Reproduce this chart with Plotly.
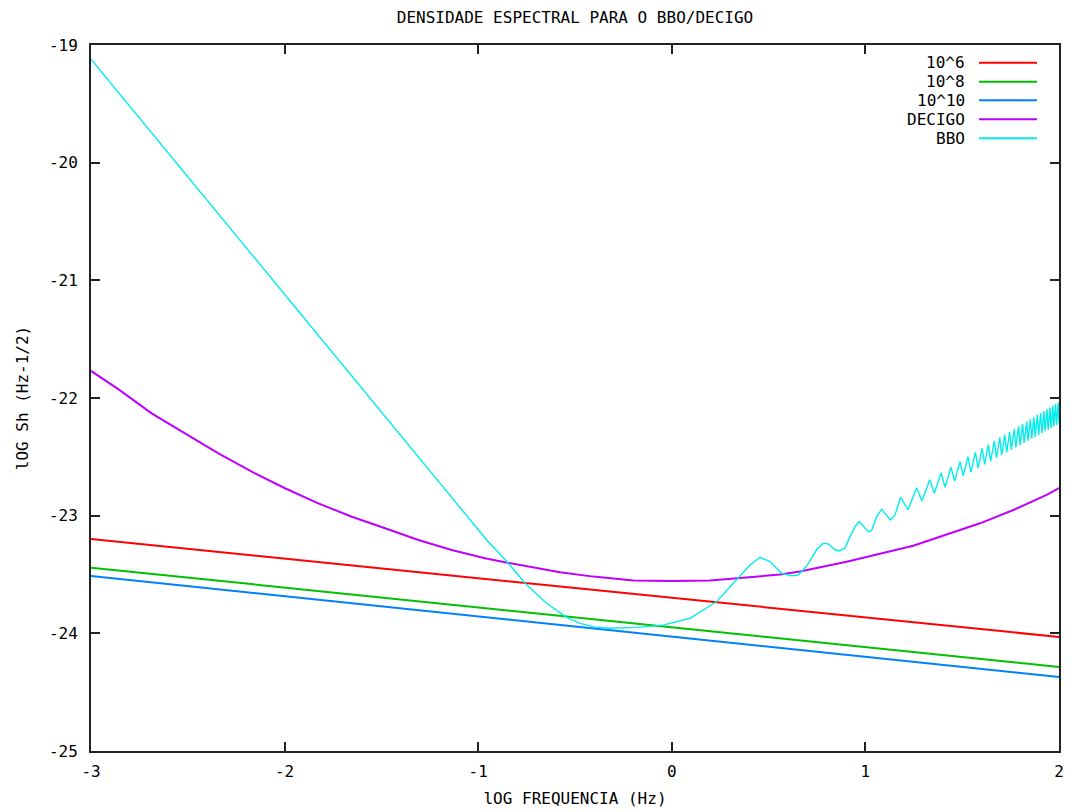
import plotly.graph_objects as go

# ---------------- data ----------------
x_ticks = [-3, -2, -1, 0, 1, 2]
x_ticklabels = ["-3", "-2", "-1", "0", "1", "2"]
y_ticks = [-25, -24, -23, -22, -21, -20, -19]
y_ticklabels = ["-25", "-24", "-23", "-22", "-21", "-20", "-19"]

# straight reference curves (log f, log Sh)
line_logf = [-3.0, -2.0, -1.0, 0.0, 1.0, 2.0]
s1e6 = [-23.198, -23.365, -23.531, -23.698, -23.865, -24.031]
s1e8 = [-23.442, -23.611, -23.780, -23.949, -24.117, -24.286]
s1e10 = [-23.513, -23.685, -23.856, -24.024, -24.195, -24.371]

decigo_logf = [-3.0, -2.859, -2.687, -2.514, -2.342, -2.170, -1.998, -1.826,
               -1.653, -1.481, -1.309, -1.137, -0.965, -0.862, -0.578, -0.405,
               -0.198, 0.0, 0.197, 0.369, 0.559, 0.662, 0.903, 1.247, 1.592,
               1.764, 1.936, 2.0]
decigo_logsh = [-21.77, -21.925, -22.13, -22.30, -22.47, -22.626, -22.767, -22.895,
                -23.009, -23.107, -23.207, -23.292, -23.362, -23.396, -23.481, -23.518,
                -23.55, -23.555, -23.55, -23.527, -23.50, -23.475, -23.391, -23.255, -23.065,
                -22.952, -22.824, -22.765]

bbo_logf = [-3.0, -2.5, -2.0, -1.5, -1.068, -0.956, -0.844, -0.758, -0.65,
            -0.543, -0.474, -0.40, -0.319, -0.182, -0.044, 0.094, 0.232, 0.352, 0.404,
            0.456, 0.507, 0.567, 0.619, 0.653, 0.696, 0.748, 0.782, 0.808, 0.843,
            0.865, 0.894, 0.920, 0.946, 0.967, 0.989, 1.015, 1.032, 1.058, 1.084,
            1.101, 1.130, 1.153, 1.182, 1.220,
            1.265, 1.292, 1.332, 1.356, 1.391, 1.412, 1.442, 1.461, 1.489, 1.505,
            1.530, 1.545, 1.568, 1.582, 1.603, 1.616, 1.635, 1.647, 1.666, 1.677,
            1.694, 1.704, 1.720, 1.730, 1.745, 1.754, 1.769, 1.777, 1.791, 1.799,
            1.812, 1.820, 1.833, 1.840, 1.852, 1.859, 1.870, 1.877, 1.888, 1.895,
            1.905, 1.912, 1.922, 1.928, 1.938, 1.944, 1.953, 1.959, 1.968, 1.973,
            1.982, 1.987, 1.996, 2.0]
bbo_logsh = [-19.12, -20.12, -21.12, -22.12, -22.98, -23.207, -23.405, -23.575, -23.74,
             -23.864, -23.915, -23.945, -23.957, -23.949, -23.93, -23.872, -23.73, -23.518, -23.42,
             -23.354, -23.39, -23.49, -23.51, -23.504, -23.43, -23.29, -23.235, -23.24, -23.29,
             -23.30, -23.277, -23.18, -23.094, -23.05, -23.094, -23.136, -23.127, -23.008, -22.946,
             -22.98, -23.037, -22.994, -22.844, -22.95,
             -22.762, -22.875, -22.695, -22.81, -22.637, -22.76, -22.587, -22.705, -22.540, -22.66,
             -22.499, -22.63, -22.462, -22.596, -22.427, -22.565, -22.396, -22.537, -22.365, -22.51,
             -22.337, -22.486, -22.311, -22.462, -22.287, -22.441, -22.263, -22.42, -22.241, -22.40,
             -22.220, -22.381, -22.200, -22.363, -22.181, -22.346, -22.163, -22.33, -22.145, -22.313,
             -22.128, -22.298, -22.111, -22.283, -22.096, -22.269, -22.081, -22.255, -22.066, -22.243,
             -22.052, -22.23, -22.038, -22.218]

series_names = ["10^6", "10^8", "10^10", "DECIGO", "BBO"]
series_colors = ["#ff0000", "#00c000", "#0080ff", "#c000ff", "#00eeee"]
series_widths = [2, 2, 2, 2, 1.4]

FONT = "DejaVu Sans Mono"
FS = 16

fig = go.Figure()
series = [
    (line_logf, s1e6),
    (line_logf, s1e8),
    (line_logf, s1e10),
    (decigo_logf, decigo_logsh),
    (bbo_logf, bbo_logsh),
]
for (xs, ys), name, col, lw in zip(series, series_names, series_colors, series_widths):
    fig.add_trace(go.Scatter(x=xs, y=ys, mode="lines", name=name,
                             line=dict(color=col, width=lw), showlegend=False))

# page body has an 8px margin: work in page pixels, convert to figure pixels
OFF = 8
W, H = 1074 - 2 * OFF, 812 - OFF
PL, PR, PT, PB = 91 - OFF, 1059 - OFF, 45 - OFF, 751 - OFF

def px2paper_x(p):
    return (p - OFF - PL) / (PR - PL)
def px2paper_y(p):
    return (PB - (p - OFF)) / (PB - PT)

row_y = [62.7, 81.7, 100.3, 119.3, 138.3]
shapes = []
annotations = []
for name, col, ry in zip(series_names, series_colors, row_y):
    yp = px2paper_y(ry)
    shapes.append(dict(type="line", xref="paper", yref="paper",
                       x0=px2paper_x(979), x1=px2paper_x(1037), y0=yp, y1=yp,
                       line=dict(color=col, width=2)))
    annotations.append(dict(xref="paper", yref="paper", x=px2paper_x(967), y=yp,
                            xanchor="right", yanchor="middle", text=name,
                            showarrow=False, font=dict(family=FONT, size=FS, color="#000")))

axis_common = dict(showgrid=False, zeroline=False, showline=True, linewidth=2,
                   linecolor="#222", mirror="ticks", ticks="inside", ticklen=9,
                   tickwidth=1.5, tickcolor="#222", automargin=False,
                   tickfont=dict(family=FONT, size=FS, color="#000"))

fig.update_layout(
    width=W, height=H,
    margin=dict(l=PL, r=W - PR, t=PT, b=H - PB, autoexpand=False),
    paper_bgcolor="white", plot_bgcolor="white",
    font=dict(family=FONT, size=FS, color="#000"),
    title=dict(text="DENSIDADE ESPECTRAL PARA O BBO/DECIGO",
               x=(PL + PR) / 2 / W, xanchor="center",
               y=1 - (17 - OFF) / H, yanchor="middle",
               font=dict(family=FONT, size=FS, color="#000")),
    xaxis=dict(range=[-3, 2], tickvals=x_ticks, ticktext=x_ticklabels,
               ticklabelstandoff=5,
               title=dict(text="lOG FREQUENCIA (Hz)", standoff=13,
                          font=dict(family=FONT, size=FS, color="#000")),
               **axis_common),
    yaxis=dict(range=[-25, -19], tickvals=y_ticks, ticktext=y_ticklabels,
               ticklabelstandoff=8,
               title=dict(text="lOG Sh (Hz-1/2)", standoff=16,
                          font=dict(family=FONT, size=FS, color="#000")),
               **axis_common),
    shapes=shapes,
    annotations=annotations,
)

fig.write_html("out.html")
